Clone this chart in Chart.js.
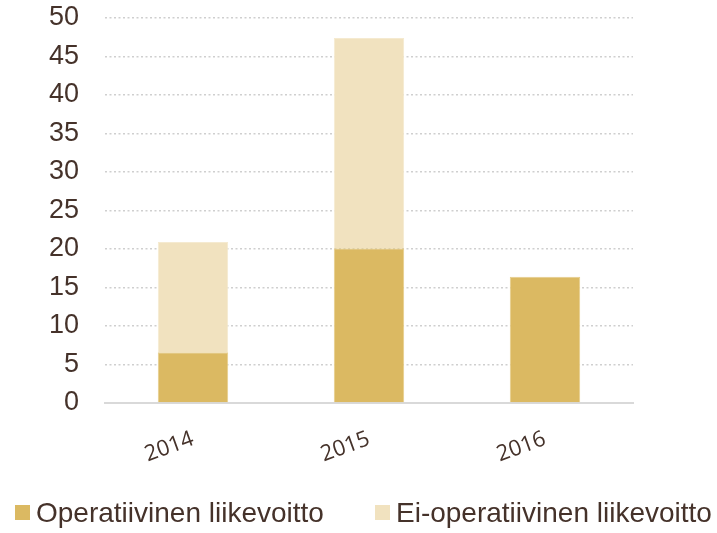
<!DOCTYPE html>
<html>
<head>
<meta charset="utf-8">
<script src="https://cdn.jsdelivr.net/npm/chart.js@4/dist/chart.umd.min.js"></script>
<style>
html,body{margin:0;padding:0;background:#fff;}
#wrap{width:717px;height:533px;position:relative;}
</style>
</head>
<body>
<div id="wrap"><canvas id="c" width="717" height="533"></canvas></div>
<script>
const categories = ['2014', '2015', '2016'];
const operatiivinen = [6.6, 20.1, 16.4];
const eiOperatiivinen = [14.3, 27.3, 0];
const seriesNames = ['Operatiivinen liikevoitto', 'Ei-operatiivinen liikevoitto'];
const yTicks = [0, 5, 10, 15, 20, 25, 30, 35, 40, 45, 50];

const textColor = '#45322a';

// Legend drawn on the canvas, items taken from the chart's datasets
const bottomLegend = {
  id: 'bottomLegend',
  afterDraw(chart) {
    const ctx = chart.ctx;
    const items = chart.data.datasets;
    const boxXs = [15, 375];
    const baseline = 522;
    ctx.save();
    ctx.font = '28px "Liberation Sans", Arial, sans-serif';
    ctx.textBaseline = 'alphabetic';
    ctx.textAlign = 'left';
    items.forEach((ds, i) => {
      const x = boxXs[i];
      ctx.fillStyle = ds.backgroundColor;
      ctx.fillRect(x, 505, 15, 15);
      ctx.fillStyle = textColor;
      ctx.fillText(ds.label, x + 21, baseline);
    });
    ctx.restore();
  }
};

new Chart(document.getElementById('c'), {
  type: 'bar',
  data: {
    labels: categories,
    datasets: [
      { label: seriesNames[0], data: operatiivinen, backgroundColor: '#dbb962', borderColor: '#e6cd8a', borderWidth: 1, categoryPercentage: 1, barPercentage: 0.4 },
      { label: seriesNames[1], data: eiOperatiivinen, backgroundColor: '#f1e2bf', borderColor: '#f5ead0', borderWidth: 1, categoryPercentage: 1, barPercentage: 0.4 }
    ]
  },
  plugins: [bottomLegend],
  options: {
    responsive: false,
    animation: false,
    layout: { padding: { left: 0, right: 84, top: 18, bottom: 0 } },
    plugins: {
      tooltip: { enabled: false },
      legend: { display: false }
    },
    scales: {
      x: {
        stacked: true,
        grid: { display: false },
        border: { display: true, color: '#d9d9d9', width: 2 },
        ticks: {
          color: textColor,
          font: { family: 'Open Sans', size: 22 },
          minRotation: 20,
          maxRotation: 20,
          padding: 15
        },
        afterFit: (s) => { s.height = 130; s.paddingLeft = 0; s.paddingRight = 0; }
      },
      y: {
        stacked: true,
        min: 0,
        max: 50,
        afterBuildTicks: (s) => { s.ticks = yTicks.map(v => ({ value: v })); },
        grid: { color: '#cfcfcf', lineWidth: 1.5, drawTicks: false },
        border: { display: false, dash: [2, 2.5] },
        ticks: {
          color: textColor,
          autoSkip: false,
          font: { family: 'Liberation Sans, Arial', size: 27 },
          padding: 26
        },
        afterFit: (s) => { s.width = 105; s.paddingTop = 0; s.paddingBottom = 0; }
      }
    }
  }
});
</script>
</body>
</html>
